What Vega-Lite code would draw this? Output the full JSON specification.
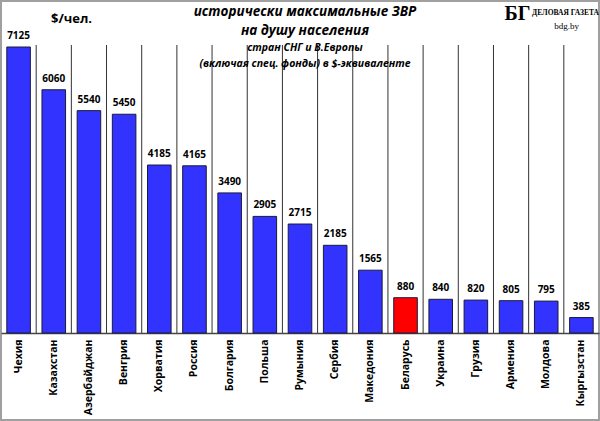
{
  "$schema": "https://vega.github.io/schema/vega-lite/v6.json",
  "width": 598,
  "height": 419,
  "padding": 1,
  "autosize": "none",
  "background": "white",
  "title": {
    "text": ["исторически  максимальные  ЗВР", "на душу населения"],
    "subtitle": ["стран СНГ и В.Европы", "(включая  спец.  фонды) в $-эквиваленте"],
    "anchor": "middle",
    "offset": -68,
    "dx": 5,
    "font": "Open Sans",
    "fontSize": 13.5,
    "fontStyle": "italic",
    "fontWeight": "bold",
    "lineHeight": 19,
    "color": "#000",
    "subtitleFont": "Open Sans",
    "subtitleFontSize": 10.5,
    "subtitleFontStyle": "italic",
    "subtitleFontWeight": "bold",
    "subtitleLineHeight": 16,
    "subtitleColor": "#000",
    "subtitlePadding": 5
  },
  "data": {
    "values": [
      {"country": "Чехия", "value": 7125},
      {"country": "Казахстан", "value": 6060},
      {"country": "Азербайджан", "value": 5540},
      {"country": "Венгрия", "value": 5450},
      {"country": "Хорватия", "value": 4185},
      {"country": "Россия", "value": 4165},
      {"country": "Болгария", "value": 3490},
      {"country": "Польша", "value": 2905},
      {"country": "Румыния", "value": 2715},
      {"country": "Сербия", "value": 2185},
      {"country": "Македония", "value": 1565},
      {"country": "Беларусь", "value": 880},
      {"country": "Украина", "value": 840},
      {"country": "Грузия", "value": 820},
      {"country": "Армения", "value": 805},
      {"country": "Молдова", "value": 795},
      {"country": "Кыргызстан", "value": 385}
    ]
  },
  "layer": [
    {
      "mark": {"type": "bar", "width": {"band": 0.67}, "stroke": "#1a1a3a", "strokeWidth": 1},
      "encoding": {
        "x": {
          "field": "country", "type": "nominal", "sort": null,
          "scale": {"paddingInner": 0, "paddingOuter": 0},
          "axis": {
            "orient": "bottom",
            "offset": -87,
            "labelAngle": -90,
            "labelFont": "Open Sans",
            "labelFontSize": 10.5,
            "labelFontWeight": "bold",
            "labelColor": "#000",
            "labelPadding": 6,
            "labelLimit": 200,
            "ticks": false,
            "grid": false,
            "domain": true,
            "domainColor": "#444",
            "domainWidth": 1.5,
            "title": "bdg.by",
            "titleFont": "Liberation Serif",
            "titleFontSize": 9,
            "titleFontWeight": "normal",
            "titleColor": "#000",
            "titleX": 565,
            "titleY": -308,
            "titleAlign": "center",
            "titleBaseline": "middle"
          }
        },
        "y": {
          "field": "value", "type": "quantitative",
          "scale": {"domain": [-2167, 8271], "nice": false, "zero": false},
          "axis": {
            "orient": "left",
            "labels": false,
            "ticks": false,
            "domain": false,
            "grid": false,
            "title": "$/чел.",
            "titleAngle": 0,
            "titleFont": "Open Sans",
            "titleFontSize": 13,
            "titleFontWeight": "bold",
            "titleColor": "#000",
            "titleX": 70,
            "titleY": 17,
            "titleAlign": "center",
            "titleBaseline": "middle"
          }
        },
        "color": {
          "condition": {"test": "datum.country === 'Беларусь'", "value": "#ff0000"},
          "value": "#3333ff"
        }
      }
    },
    {
      "transform": [{"filter": "datum.country !== 'Чехия'"}],
      "mark": {"type": "rule", "color": "#333", "strokeWidth": 1},
      "encoding": {
        "x": {"field": "country", "type": "nominal", "sort": null, "bandPosition": 0, "axis": null},
        "y": {"datum": 0, "type": "quantitative", "axis": null},
        "y2": {"datum": 7175}
      }
    },
    {
      "mark": {"type": "text", "font": "Open Sans", "fontSize": 10, "fontWeight": "bold", "color": "#000", "baseline": "alphabetic", "dy": -8},
      "encoding": {
        "x": {
          "field": "country", "type": "nominal", "sort": null,
          "axis": {
            "orient": "top",
            "labels": false,
            "ticks": false,
            "domain": false,
            "grid": false,
            "title": "БГ",
            "titleFont": "Liberation Serif",
            "titleFontSize": 20,
            "titleFontWeight": "bold",
            "titleColor": "#000",
            "titleX": 516,
            "titleY": 12,
            "titleAlign": "center",
            "titleBaseline": "middle"
          }
        },
        "y": {
          "field": "value", "type": "quantitative",
          "axis": {
            "orient": "right",
            "labels": false,
            "ticks": false,
            "domain": false,
            "grid": false,
            "title": "ДЕЛОВАЯ ГАЗЕТА",
            "titleAngle": 0,
            "titleFont": "Liberation Serif",
            "titleFontSize": 7.5,
            "titleFontWeight": "bold",
            "titleColor": "#000",
            "titleX": -34,
            "titleY": 11,
            "titleAlign": "center",
            "titleBaseline": "middle"
          }
        },
        "text": {"field": "value", "type": "quantitative", "format": "d"}
      }
    }
  ],
  "resolve": {"axis": {"x": "independent", "y": "independent"}},
  "config": {
    "view": {"stroke": "#a0a0a0", "strokeWidth": 2}
  }
}
